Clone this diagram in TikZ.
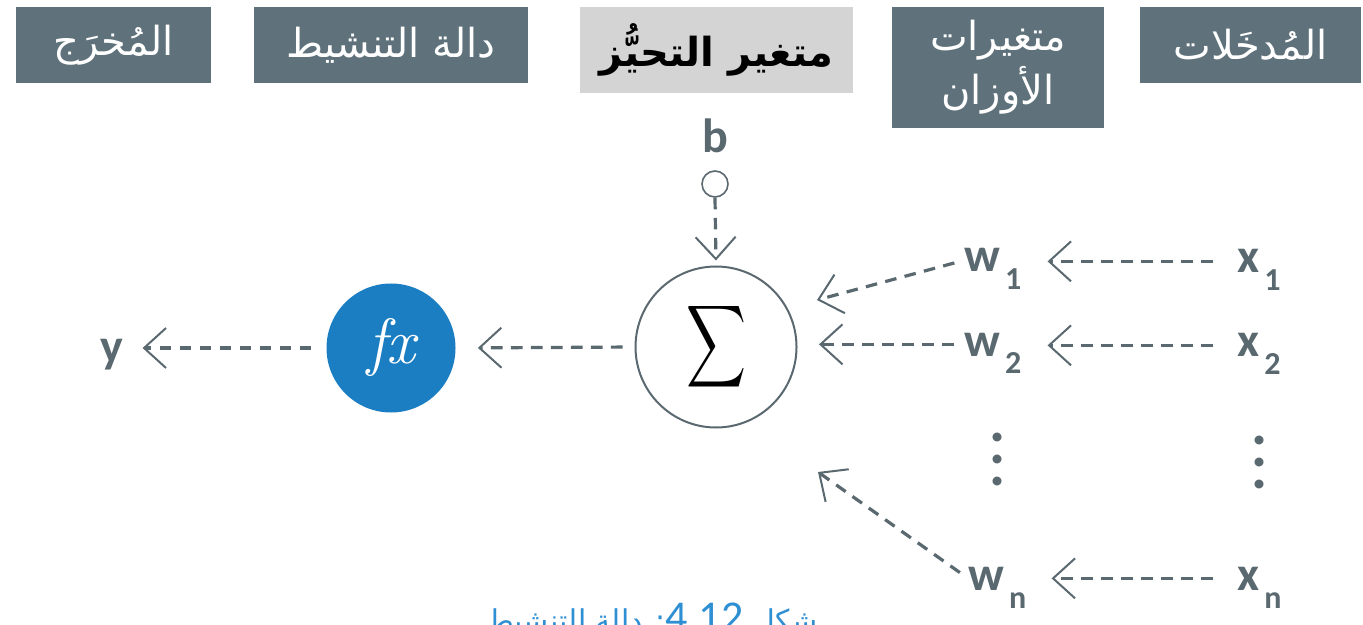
\documentclass[tikz,border=0pt]{standalone}
\usepackage{fontspec}
\usepackage{graphicx}
\setmainfont{Carlito}
\newfontfamily\arabicfont[Script=Arabic]{DejaVu Sans}
\newfontfamily\serif{Latin Modern Roman}
\TeXXeTstate=1
\usetikzlibrary{arrows.meta}
\definecolor{boxfill}{HTML}{5F727B}
\definecolor{graybox}{HTML}{D4D4D4}
\definecolor{ink}{HTML}{5A6870}
\definecolor{fxblue}{HTML}{1B7DC2}
\definecolor{capblue}{HTML}{2E8FD3}
\newcommand\subx[1]{\rlap{\smash{\kern2.5pt\raisebox{-9pt}{\fontsize{16}{18}\selectfont #1}}}}
\begin{document}
\begin{tikzpicture}[x=0.5pt,y=-0.5pt,
  hdr/.style={fill=boxfill, text=white, font=\arabicfont\fontsize{20}{27}\selectfont, align=center, inner sep=0, minimum height=38pt},
  hdrgray/.style={fill=graybox, text=black, font=\arabicfont\bfseries\fontsize{20}{27}\selectfont, align=center, inner sep=0, minimum height=43pt},
  lbl/.style={text=ink, font=\fontsize{24}{28}\selectfont\bfseries, inner sep=0},
  vdot/.style={text=ink, font=\bfseries\fontsize{30}{11}\selectfont, align=center, inner sep=0},
  arr/.style={draw=ink, line width=1.6pt, dash pattern=on 5.8pt off 4.2pt, -{Straight Barb[length=11pt,width=20pt,line width=1pt]}}
]
\useasboundingbox (0,0) rectangle (1363,625);
\fill[white] (0,0) rectangle (1363,625);
% header boxes
\node[hdr, minimum width=97.5pt] (hout) at (113.5,45) {\beginR المُخرَج\endR};
\node[hdr, minimum width=137pt] (hact) at (391,45) {\beginR دالة التنشيط\endR};
\node[hdrgray, minimum width=136.5pt] (hbias) at (716.5,50) {\beginR متغير التحيُّز\endR};
\node[hdr, minimum width=106pt, minimum height=60.5pt] (hw) at (998,67.5) {\beginR متغيرات\endR\\\beginR الأوزان\endR};
\node[hdr, minimum width=110.5pt] (hin) at (1250.5,45) {\beginR المُدخَلات\endR};
% neuron
\node[circle, draw=ink, line width=1pt, minimum size=80.5pt, inner sep=0] (sig) at (716,347) {\resizebox*{30pt}{46pt}{$\displaystyle\sum$}};
\node[circle, fill=fxblue, minimum size=64.5pt, inner sep=0, text=white] (fx) at (391,348) {\serif\itshape\fontsize{32}{36}\selectfont fx};
\node[circle, draw=ink, line width=0.8pt, minimum size=13pt, inner sep=0] (bc) at (715,184) {};
\node[lbl, anchor=base] (b) at (715,153) {b};
\node[lbl, anchor=base west] (y) at (100,362) {y};
% weights and inputs
\node[lbl, anchor=base west] (w1) at (964,272) {w\subx{1}};
\node[lbl, anchor=base west] (w2) at (964,356) {w\subx{2}};
\node[lbl, anchor=base west] (wn) at (968,590) {w\subx{n}};
\node[lbl, anchor=base west] (x1) at (1237,273) {x\subx{1}};
\node[lbl, anchor=base west] (x2) at (1237,357) {x\subx{2}};
\node[lbl, anchor=base west] (xn) at (1237,590) {x\subx{n}};
\node[vdot] (wd) at (997,459) {.\\.\\.};
\node[vdot] (xd) at (1259,462) {.\\.\\.};
% arrow tips near the sum node
\coordinate (t1) at (817,300);
\coordinate (t2) at (819,352);
\coordinate (tn) at (818,472);
% connectors
\draw[arr, shorten <=12pt, shorten >=23.5pt] (x1.west) -- (w1.east |- x1.west);
\draw[arr, shorten <=12pt, shorten >=23.5pt] (x2.west) -- (w2.east |- x2.west);
\draw[arr, shorten <=12pt, shorten >=23.5pt] (xn.west) -- (wn.east |- xn.west);
\draw[arr, shorten <=5pt] (w1.west) -- (t1);
\draw[arr, shorten <=5pt] (w2.west) -- (t2 |- w2.west);
\draw[arr, shorten <=5pt] (wn.west) -- (tn);
\draw[arr, shorten >=2.5pt] (bc.south) -- (sig.north);
\draw[arr, shorten <=6pt, shorten >=11pt] (sig.west) -- (fx.east);
\draw[arr, shorten <=7.5pt, shorten >=9.5pt] (fx.west) -- (y.east |- fx.west);
% caption (cut by the page edge)
\node[text=capblue, font=\arabicfont\fontsize{15}{18}\selectfont, anchor=base] (cap) at (652,631) {\beginR شكل \beginL{\normalfont\fontsize{22}{24}\selectfont 4.12}\endL: دالة التنشيط\endR};
\end{tikzpicture}
\end{document}
